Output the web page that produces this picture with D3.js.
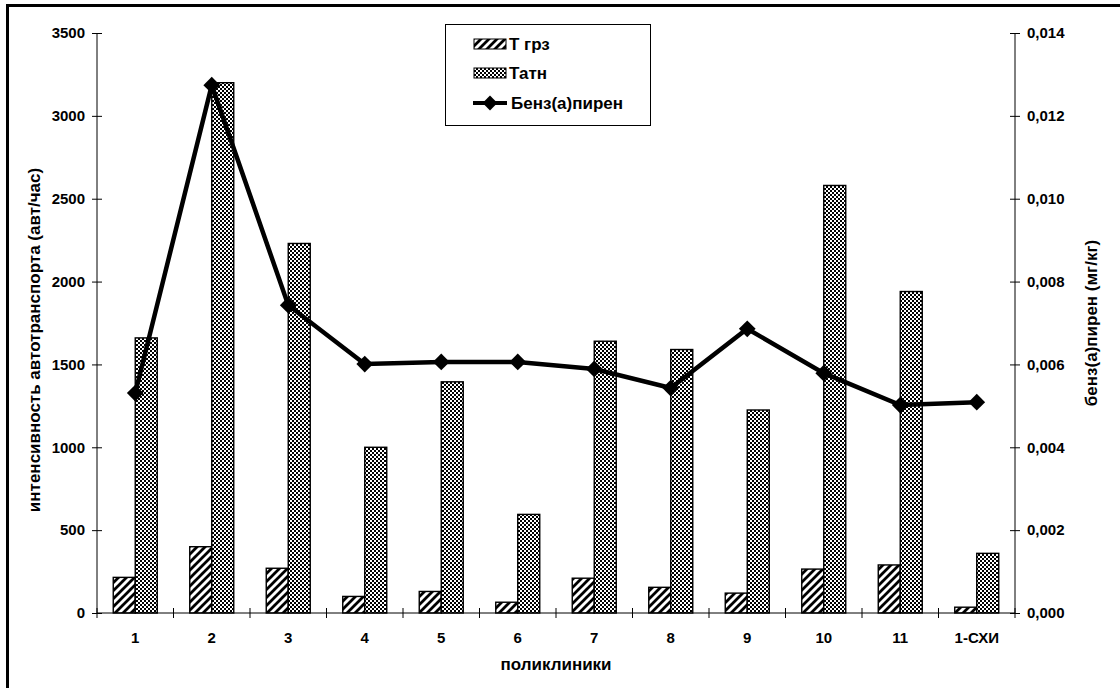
<!DOCTYPE html>
<html><head><meta charset="utf-8">
<script src="https://cdn.jsdelivr.net/npm/d3@7"></script>
<style>body{margin:0;background:#fff}svg{display:block}text{font-family:"Liberation Sans",Arial,sans-serif;font-weight:bold}</style>
</head><body>
<svg id="c" width="1120" height="688"></svg>
<script>
const categories = ["1","2","3","4","5","6","7","8","9","10","11","1-СХИ"];
const tGrz = [215,400,270,100,130,65,210,155,120,265,290,35];
const tAtn = [1660,3200,2230,1000,1395,595,1640,1590,1225,2580,1940,360];
const benz = [0.00531,0.01274,0.00743,0.00601,0.00606,0.00606,0.00589,0.00543,0.00686,0.00579,0.00502,0.00509];
const leftTicks = [0,500,1000,1500,2000,2500,3000,3500];
const rightTicks = [0,0.002,0.004,0.006,0.008,0.010,0.012,0.014];
const seriesNames = ["Т грз","Татн","Бенз(а)пирен"];

const svg = d3.select("#c");
const defs = svg.append("defs");
const hatch = defs.append("pattern").attr("id","hatch").attr("patternUnits","userSpaceOnUse")
  .attr("width",8).attr("height",8);
hatch.append("rect").attr("width",8).attr("height",8).attr("fill","#fff");
hatch.append("path").attr("d","M-2,2 L2,-2 M0,8 L8,0 M6,10 L10,6").attr("stroke","#000").attr("stroke-width",2.8);
const chk = defs.append("pattern").attr("id","chk").attr("patternUnits","userSpaceOnUse")
  .attr("width",4).attr("height",4);
chk.append("rect").attr("width",4).attr("height",4).attr("fill","#fff");
chk.append("rect").attr("width",2).attr("height",2).attr("fill","#000");
chk.append("rect").attr("x",2).attr("y",2).attr("width",2).attr("height",2).attr("fill","#000");

// frame
svg.append("rect").attr("x",7.5).attr("y",5.5).attr("width",1130).attr("height",700)
  .attr("fill","none").attr("stroke","#000").attr("stroke-width",3);

const L=97, R=1015, T=33, B=613;
const x = d3.scaleBand().domain(categories).range([L,R]).paddingInner(0).paddingOuter(0);
const yL = d3.scaleLinear().domain([0,3500]).range([B,T]);
const yR = d3.scaleLinear().domain([0,0.014]).range([B,T]);
const bw = 22;
const cx = c => x(c) + x.bandwidth()/2;

// bars
svg.append("g").selectAll("rect").data(categories).join("rect")
  .attr("x",(c)=>cx(c)-bw).attr("y",(c,i)=>yL(tGrz[i])).attr("width",bw)
  .attr("height",(c,i)=>B-yL(tGrz[i])).attr("fill","url(#hatch)").attr("stroke","#000").attr("stroke-width",1.4);
svg.append("g").selectAll("rect").data(categories).join("rect")
  .attr("x",(c)=>cx(c)).attr("y",(c,i)=>yL(tAtn[i])).attr("width",bw)
  .attr("height",(c,i)=>B-yL(tAtn[i])).attr("fill","url(#chk)").attr("stroke","#000").attr("stroke-width",1.4);

// axes
const fs = "15px", fsT = "17px";
const gl = svg.append("g").attr("transform",`translate(${L},0)`)
  .call(d3.axisLeft(yL).tickValues(leftTicks).tickSize(5).tickFormat(d3.format("d")));
const gr = svg.append("g").attr("transform",`translate(${R},0)`)
  .call(d3.axisRight(yR).tickValues(rightTicks).tickSize(5).tickFormat(d=>d3.format(".3f")(d).replace(".",",")));
const gb = svg.append("g").attr("transform",`translate(0,${B})`)
  .call(d3.axisBottom(x).tickSize(0).tickPadding(19));
[gl,gr,gb].forEach(g=>{
  g.select(".domain").attr("stroke","#000").attr("stroke-width",1);
  g.selectAll("text").style("font-size",fs).attr("fill","#000");
});
gl.select(".domain").attr("d",`M0,${B}V${T}`);
gr.select(".domain").attr("d",`M0,${B}V${T}`);
gl.selectAll(".tick line").attr("x1",5).attr("x2",-5);
gl.selectAll(".tick text").attr("x",-12);
gr.selectAll(".tick line").attr("x1",-5).attr("x2",5);
gr.selectAll(".tick text").attr("x",12);
gb.select(".domain").attr("d",`M${L},0H${R}`);
// category boundary ticks
const bounds = categories.map(c=>x(c)).concat([R]);
svg.append("g").selectAll("line").data(bounds).join("line")
  .attr("x1",d=>d).attr("x2",d=>d).attr("y1",B-5).attr("y2",B+5).attr("stroke","#000");

// line
const line = d3.line().x((d,i)=>cx(categories[i])).y(d=>yR(d));
svg.append("path").datum(benz).attr("d",line).attr("fill","none").attr("stroke","#000")
  .attr("stroke-width",4.5).attr("stroke-linejoin","miter");
svg.append("g").selectAll("path").data(benz).join("path")
  .attr("d",d3.symbol().type(d3.symbolSquare).size(140))
  .attr("transform",(d,i)=>`translate(${cx(categories[i])},${yR(d)}) rotate(45)`)
  .attr("fill","#000");

// titles
svg.append("text").attr("transform",`translate(34,340) rotate(-90)`).attr("text-anchor","middle")
  .attr("dy","0.35em").style("font-size",fsT).text("интенсивность автотранспорта (авт/час)");
svg.append("text").attr("transform",`translate(1091,${(T+B)/2}) rotate(-90)`).attr("text-anchor","middle")
  .attr("dy","0.35em").style("font-size",fsT).text("бенз(а)пирен (мг/кг)");
svg.append("text").attr("x",(L+R)/2).attr("y",664).attr("dy","0.35em").attr("text-anchor","middle")
  .style("font-size",fsT).text("поликлиники");

// legend
const lg = svg.append("g");
lg.append("rect").attr("x",445.5).attr("y",24.5).attr("width",205).attr("height",101)
  .attr("fill","#fff").attr("stroke","#000").attr("stroke-width",1);
const ly = [44,73,103];
lg.append("rect").attr("x",474).attr("y",ly[0]-5).attr("width",32).attr("height",10).attr("fill","url(#hatch)").attr("stroke","#000");
lg.append("rect").attr("x",474).attr("y",ly[1]-5).attr("width",32).attr("height",10).attr("fill","url(#chk)").attr("stroke","#000");
lg.append("line").attr("x1",473).attr("x2",507).attr("y1",ly[2]).attr("y2",ly[2]).attr("stroke","#000").attr("stroke-width",4);
lg.append("path").attr("d",d3.symbol().type(d3.symbolSquare).size(110)).attr("transform",`translate(490,${ly[2]}) rotate(45)`).attr("fill","#000");
seriesNames.forEach((n,i)=>{
  lg.append("text").attr("x",i<2?509:511).attr("y",ly[i]).attr("dy","0.35em").style("font-size",fsT).text(n);
});
</script>
</body></html>
